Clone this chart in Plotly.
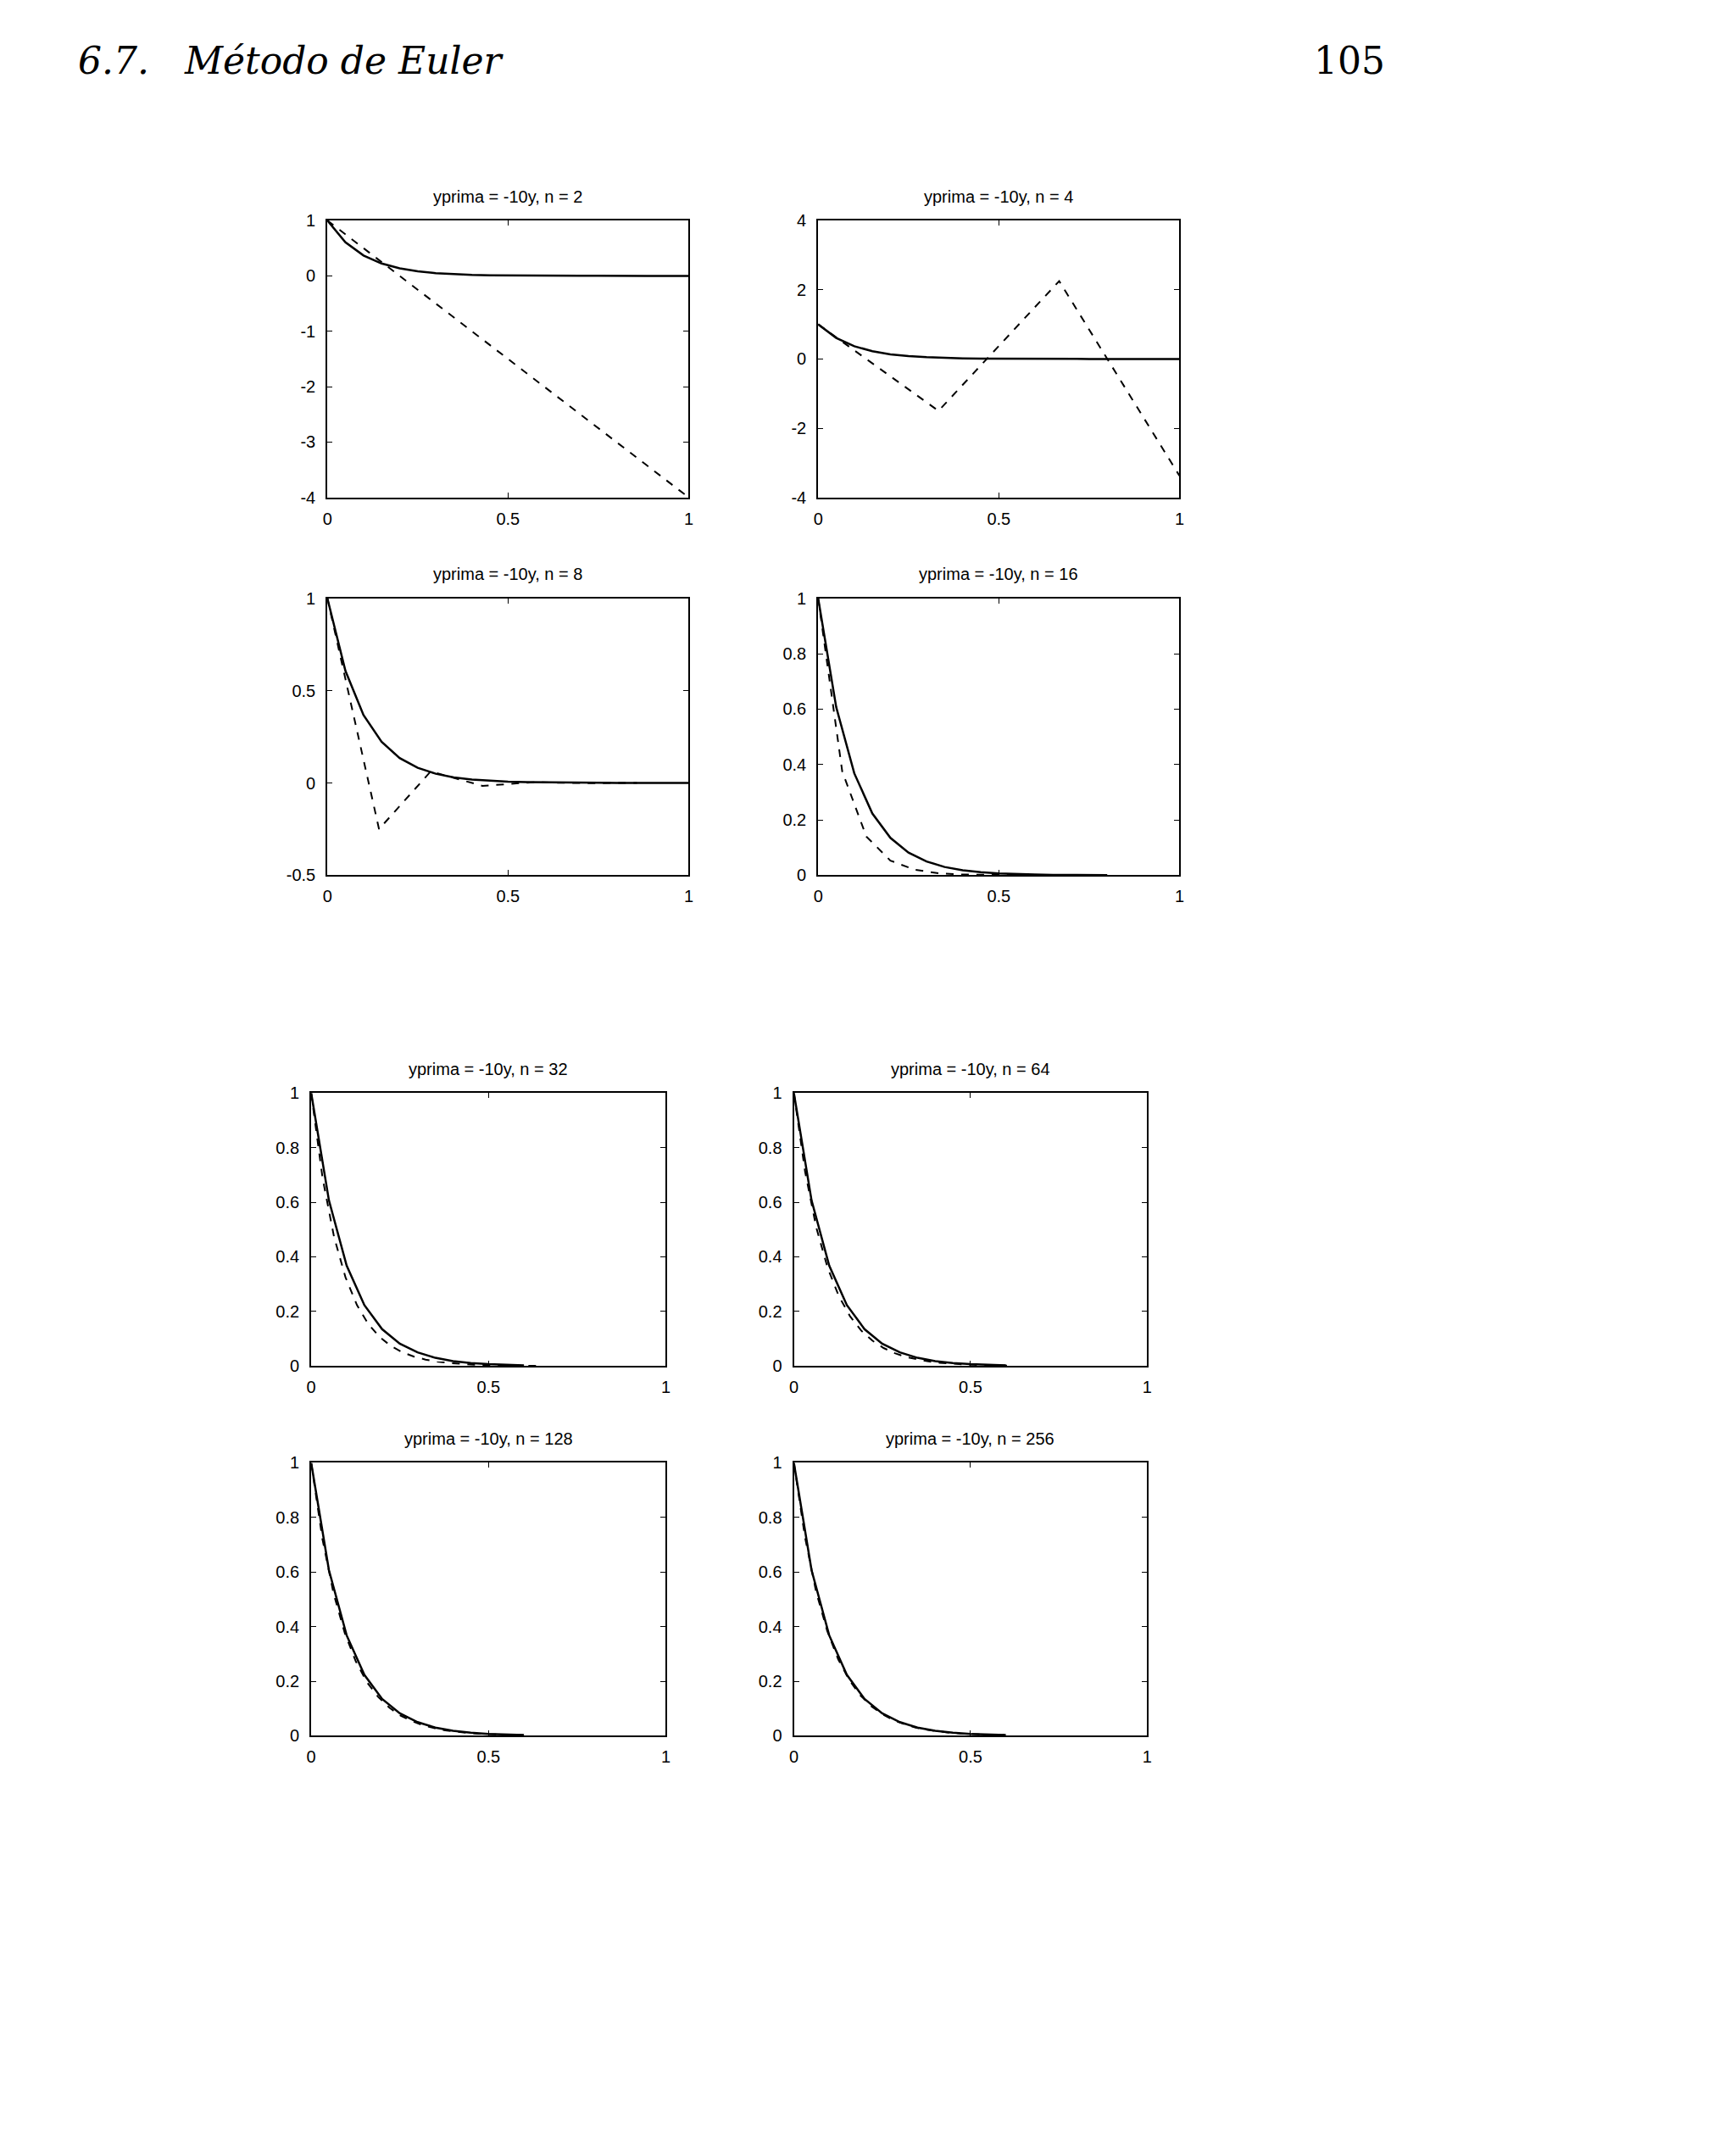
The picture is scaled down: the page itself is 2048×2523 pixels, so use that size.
import plotly.graph_objects as go

titles = ["yprima = -10y, n = 2", "yprima = -10y, n = 4", "yprima = -10y, n = 8", "yprima = -10y, n = 16",
          "yprima = -10y, n = 32", "yprima = -10y, n = 64", "yprima = -10y, n = 128", "yprima = -10y, n = 256"]

ex_x = [0, .05, .1, .15, .2, .25, .3, .35, .4, .45, .5, .55, .6, .65, .7, .75, .8, .85, .9, .95, 1]
ex_y = [1, .607, .368, .223, .135, .082, .050, .030, .018, .011, .0067, .0041, .0025, .0015, .0009, .0006, .0003, .0002, .0001, .00007, .00005]
exact_end = [1, 1, 1, 0.82, 0.62, 0.62, 0.6, 0.6]

d2_x = [0, 1]; d2_y = [1, -4]
d4_x = [0, .333, .667, 1]; d4_y = [1, -1.5, 2.25, -3.375]
d8_x = [0, .143, .286, .429, .571, .714, .857]; d8_y = [1, -.25, .0625, -.0156, .0039, -.001, .0002]
d16_x = [k / 15 for k in range(13)]
d16_y = [1, .375, .14, .053, .02, .0074, .0028, .001, .0004, .00015, .00005, .00002, .00001]
d32_x = [k / 31 for k in range(21)]
d32_y = [1, .6875, .4727, .325, .2234, .1536, .1056, .0726, .0499, .0343, .0236, .0162, .0112, .0077, .0053, .0036, .0025, .0017, .0012, .0008, .0005]
d64_x = [2 * k / 63 for k in range(20)]
d64_y = [1, .712, .507, .361, .257, .183, .130, .093, .066, .047, .033, .024, .017, .012, .0086, .0061, .0044, .0031, .0022, .0016]
d128_x = [4 * k / 127 for k in range(20)]
d128_y = [1, .722, .522, .377, .272, .196, .142, .103, .074, .054, .039, .028, .020, .0146, .0105, .0076, .0055, .004, .0029, .0021]
d256_x = [8 * k / 255 for k in range(20)]
d256_y = [1, .728, .529, .385, .280, .204, .148, .108, .079, .057, .042, .030, .022, .016, .0116, .0085, .0062, .0045, .0033, .0024]
dashed = [(d2_x, d2_y), (d4_x, d4_y), (d8_x, d8_y), (d16_x, d16_y), (d32_x, d32_y), (d64_x, d64_y), (d128_x, d128_y), (d256_x, d256_y)]

yranges = [(-4, 1), (-4, 4), (-0.5, 1)] + [(0, 1)] * 5
yticks = [[-4, -3, -2, -1, 0, 1], [-4, -2, 0, 2, 4], [-0.5, 0, 0.5, 1]] + [[0, .2, .4, .6, .8, 1]] * 5

W, H = 1280, 1577
xdoms = [(234, 502), (598, 866), (234, 502), (598, 866), (222, 485), (580, 842), (222, 485), (580, 842)]
ydoms = [(152, 358), (152, 358), (433, 639), (433, 639), (801, 1004), (801, 1004), (1076, 1279), (1076, 1279)]

fig = go.Figure()
layout = dict(width=2048, height=2523, margin=dict(l=0, r=0, t=0, b=0), plot_bgcolor="white",
              paper_bgcolor="white", showlegend=False, font=dict(family="Liberation Sans", size=20, color="black"))
ann = []
for i in range(8):
    s = "" if i == 0 else str(i + 1)
    xa, ya = "x" + s, "y" + s
    end = exact_end[i]
    ex = [(a, b) for a, b in zip(ex_x, ex_y) if a <= end + 1e-9]
    fig.add_trace(go.Scatter(x=[p[0] for p in ex], y=[p[1] for p in ex], mode="lines",
                             line=dict(color="black", width=2.5), xaxis=xa, yaxis=ya))
    dx, dy = dashed[i]
    fig.add_trace(go.Scatter(x=dx, y=dy, mode="lines", line=dict(color="black", width=2, dash="dash"),
                             xaxis=xa, yaxis=ya))
    x0, x1 = xdoms[i]; y0, y1 = ydoms[i]
    common = dict(showline=True, mirror="ticks", linecolor="black", linewidth=2, ticks="inside",
                  ticklen=6, tickcolor="black", showgrid=False, zeroline=False)
    layout["xaxis" + s] = dict(domain=[x0 / W, x1 / W], range=[0, 1], tickvals=[0, 0.5, 1],
                               ticktext=["0", "0.5", "1"], anchor=ya, ticklabelstandoff=6, **common)
    layout["yaxis" + s] = dict(domain=[1 - y1 / H, 1 - y0 / H], range=list(yranges[i]), tickvals=yticks[i],
                               ticktext=[("%g" % v) for v in yticks[i]], anchor=xa, ticklabelstandoff=8, **common)
    ann.append(dict(text=titles[i], x=(x0 + x1) / 2 / W, y=1 - (y0 - 18) / H, xref="paper", yref="paper",
                    xanchor="center", yanchor="middle",
                    showarrow=False, font=dict(size=20, family="Liberation Sans")))
ann.append(dict(text="<i>6.7.   Método de Euler</i>", x=48 / W, y=1 - 33 / H, xref="paper", yref="paper",
                xanchor="left", yanchor="middle", showarrow=False, font=dict(size=44, family="DejaVu Serif")))
ann.append(dict(text="105", x=1020 / W, y=1 - 33 / H, xref="paper", yref="paper", xanchor="right",
                yanchor="middle", showarrow=False, font=dict(size=44, family="DejaVu Serif")))
layout["annotations"] = ann
fig.update_layout(**layout)
fig.write_html("out.html")
